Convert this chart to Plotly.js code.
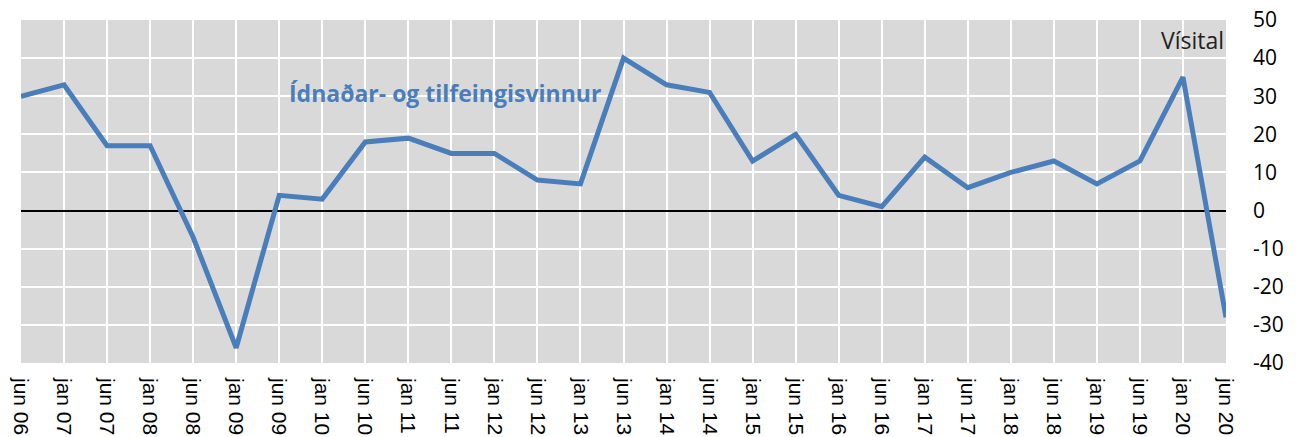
<!DOCTYPE html>
<html>
<head>
<meta charset="utf-8">
<script src="https://cdn.plot.ly/plotly-3.0.1.min.js"></script>
<style>
html,body{margin:0;padding:0;background:#fff;}
#chart{width:1298px;height:437px;}
</style>
</head>
<body>
<div id="chart"></div>
<script>
const categories = ["jun 06","jan 07","jun 07","jan 08","jun 08","jan 09","jun 09","jan 10","jun 10","jan 11",
  "jun 11","jan 12","jun 12","jan 13","jun 13","jan 14","jun 14","jan 15","jun 15","jan 16",
  "jun 16","jan 17","jun 17","jan 18","jun 18","jan 19","jun 19","jan 20","jun 20"];
const values = [30,33,17,17,-7,-36,4,3,18,19,
  15,15,8,7,40,33,31,13,20,4,
  1,14,6,10,13,7,13,35,-28];
const yTicks = [-40,-30,-20,-10,0,10,20,30,40,50];
const seriesLabel = "Ídnaðar- og tilfeingisvinnur";
const unitLabel = "Vísital";

const trace = {
  x: categories,
  y: values,
  type: 'scatter',
  mode: 'lines',
  line: {color: '#4a7ebb', width: 5},
  hoverinfo: 'skip'
};

const layout = {
  width: 1298,
  height: 437,
  margin: {l: 21, r: 72, t: 20, b: 74, pad: 0},
  paper_bgcolor: '#ffffff',
  plot_bgcolor: '#d9d9d9',
  showlegend: false,
  xaxis: {
    type: 'category',
    range: [0, categories.length - 1],
    tickangle: 90,
    tickfont: {family: 'Liberation Sans, Arial, sans-serif', size: 21, color: '#000'},
    showgrid: true,
    gridcolor: '#ffffff',
    gridwidth: 2,
    ticks: '',
    ticklabelstandoff: 14,
    zeroline: false,
    showline: false,
    fixedrange: true
  },
  yaxis: {
    side: 'right',
    range: [-40, 50],
    tickvals: yTicks,
    ticktext: yTicks.map(String),
    tickfont: {family: 'Open Sans, sans-serif', size: 21, color: '#000'},
    showgrid: true,
    gridcolor: '#ffffff',
    gridwidth: 2,
    ticks: '',
    ticklabelstandoff: 26,
    zeroline: true,
    zerolinecolor: '#000000',
    zerolinewidth: 2,
    showline: false,
    fixedrange: true
  },
  annotations: [
    {
      text: seriesLabel,
      xref: 'paper', yref: 'paper',
      x: (287 - 21) / (1226 - 21), y: 1 - (93 - 20) / (363 - 20),
      xanchor: 'left', yanchor: 'middle',
      showarrow: false,
      font: {family: 'Open Sans, sans-serif', size: 23, color: '#4a7ebb', weight: 'bold'}
    },
    {
      text: unitLabel,
      xref: 'paper', yref: 'paper',
      x: 1, y: 1 - (40 - 20) / (363 - 20),
      xanchor: 'right', yanchor: 'middle',
      showarrow: false,
      font: {family: 'Open Sans, sans-serif', size: 23, color: '#222222'}
    }
  ]
};

Plotly.newPlot('chart', [trace], layout, {staticPlot: true, displayModeBar: false});
</script>
</body>
</html>
